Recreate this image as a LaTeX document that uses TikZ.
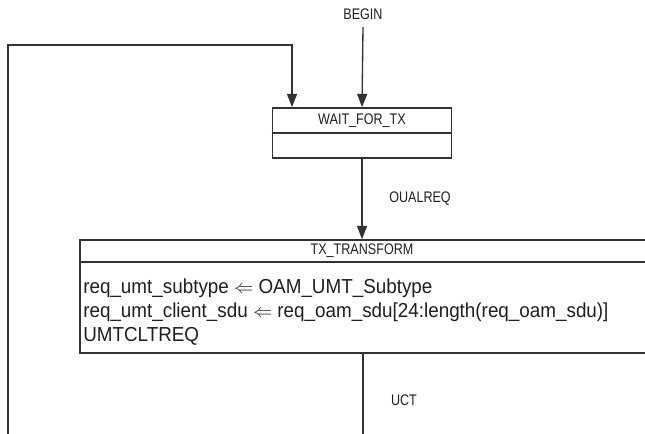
\documentclass[tikz,border=0pt]{standalone}
\usepackage{fontspec}
\setmainfont{Liberation Sans}
\newfontfamily\narrowfont[FakeStretch=0.82]{Liberation Sans}
\newfontfamily\bodyfont[FakeStretch=0.93]{Liberation Sans}
\usetikzlibrary{arrows.meta}
\definecolor{linegray}{gray}{0.2}
\definecolor{textgray}{gray}{0.12}
\tikzset{
  statebox/.style={draw=linegray, line width=1.2pt, inner sep=0pt},
  divider/.style={draw=linegray, line width=1.2pt},
  flow/.style={draw=linegray, line width=1pt, -{Triangle[length=10pt,width=7.5pt]}},
  wire/.style={draw=linegray, line width=1pt},
  tagtext/.style={font=\narrowfont\fontsize{11.5}{12}\selectfont, text=textgray, inner sep=0pt},
  bodytext/.style={font=\bodyfont\fontsize{15.2}{18}\selectfont, text=textgray, inner sep=0pt, anchor=base west},
}
\begin{document}
\begin{tikzpicture}[x=0.75pt,y=-0.75pt]
  \useasboundingbox (0,0) rectangle (645,433);
  % states
  \node[statebox, minimum width=134.25pt, minimum height=37.5pt] (wait) at (362,133) {};
  \node[statebox, minimum width=465pt, minimum height=84.75pt] (trans) at (390,296.5) {};
  \draw[divider] (wait.west) -- (wait.east);
  \draw[divider] ([yshift=-17.25pt]trans.north west) -- ([yshift=-17.25pt]trans.north east);
  \node[tagtext] (waittitle) at (362,121) {WAIT\_FOR\_TX};
  \node[tagtext] (transtitle) at (362,251) {TX\_TRANSFORM};
  \foreach \txt [count=\i] in {req\_umt\_subtype $\Leftarrow$ OAM\_UMT\_Subtype,
      req\_umt\_client\_sdu $\Leftarrow$ req\_oam\_sdu[24:length(req\_oam\_sdu)],
      UMTCLTREQ}
    \node[bodytext] (line\i) at (83,269+24*\i) {\txt};
  % labels
  \node[tagtext] (begin) at (363,14) {BEGIN};
  \node[tagtext] (oualreq) at (420,199) {OUALREQ};
  \node[tagtext] (uct) at (404,400) {UCT};
  % transitions
  \coordinate (loopin) at (8,440);
  \coordinate (loopcorner) at (292,45);
  \coordinate (out) at (363,440);
  \draw[flow] ([yshift=-5.5pt]begin.south) -- (wait.north);
  \draw[flow] (loopin) |- (loopcorner) -- (loopcorner |- wait.north);
  \draw[flow] (wait.south) -- (wait.south |- trans.north);
  \draw[wire] (out |- trans.south) -- (out);
\end{tikzpicture}
\end{document}
